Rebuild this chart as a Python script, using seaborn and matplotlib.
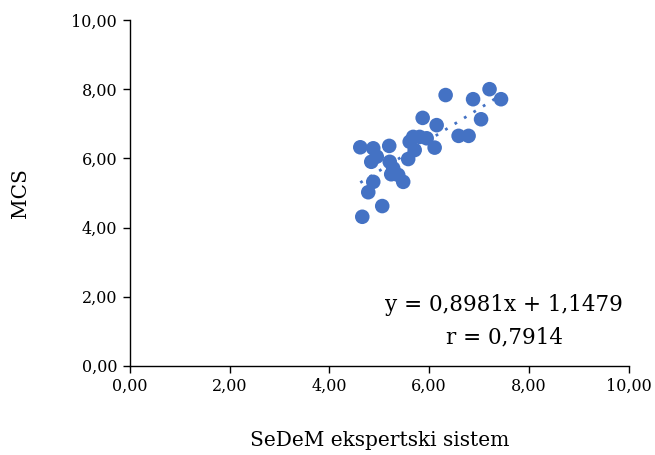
import matplotlib
matplotlib.use("Agg")
import numpy as np
import pandas as pd
import matplotlib.pyplot as plt
import seaborn as sns
from matplotlib.ticker import FuncFormatter

# values
sedem = [6.33, 7.21, 7.44, 6.88, 7.04, 5.87, 6.15, 6.59, 6.79, 4.62, 4.88, 5.20,
         5.68, 5.81, 5.95, 5.61, 6.11, 5.71, 5.58, 4.84, 5.21, 5.28, 5.24, 5.38,
         5.48, 4.88, 4.78, 5.06, 4.66, 4.95]
mcs = [7.83, 8.00, 7.71, 7.71, 7.13, 7.17, 6.96, 6.65, 6.65, 6.32, 6.29, 6.36,
       6.62, 6.62, 6.58, 6.48, 6.31, 6.24, 5.98, 5.90, 5.90, 5.71, 5.54, 5.52,
       5.32, 5.32, 5.02, 4.62, 4.31, 6.05]
slope, intercept = 0.8981, 1.1479
eq_line = "y = 0,8981x + 1,1479"
r_line = "r = 0,7914"

df = pd.DataFrame({"SeDeM": sedem, "MCS": mcs})

sns.set_style("white")
plt.rcParams["font.family"] = ["DejaVu Serif"]
plt.rcParams["text.color"] = "black"
plt.rcParams["axes.labelcolor"] = "black"
plt.rcParams["xtick.color"] = "black"
plt.rcParams["ytick.color"] = "black"

fig = plt.figure(figsize=(6.55, 4.55), dpi=100)
ax = fig.add_axes([0.198, 0.196, 0.762, 0.760])

blue = "#4472C4"
sns.scatterplot(data=df, x="SeDeM", y="MCS", ax=ax, color=blue, s=110,
                edgecolor="none", zorder=3)

# linear trendline from the published equation
xs = np.linspace(df["SeDeM"].min(), df["SeDeM"].max(), 50)
ax.plot(xs, slope * xs + intercept, color=blue, lw=2, ls=(0, (1, 3)),
        zorder=2)

ax.set_xlim(0, 10)
ax.set_ylim(0, 10)
ax.set_xticks(np.arange(0, 11, 2))
ax.set_yticks(np.arange(0, 11, 2))
fmt = FuncFormatter(lambda v, p: f"{v:.2f}".replace(".", ","))
ax.xaxis.set_major_formatter(fmt)
ax.yaxis.set_major_formatter(fmt)
ax.tick_params(axis="both", which="major", direction="out", length=5,
               width=1, color="black", labelcolor="black", labelsize=11.5,
               pad=4)
ax.tick_params(axis="x", bottom=True)
ax.tick_params(axis="y", left=True)

for side in ["top", "right"]:
    ax.spines[side].set_visible(False)
for side in ["left", "bottom"]:
    ax.spines[side].set_color("black")
    ax.spines[side].set_linewidth(1)

ax.set_xlabel("SeDeM ekspertski sistem", fontsize=14.5, labelpad=26)
ax.set_ylabel("MCS", fontsize=14.5, labelpad=30)

ax.text(7.5, 1.76, eq_line, ha="center", va="center", fontsize=15.5)
ax.text(7.5, 0.83, r_line, ha="center", va="center", fontsize=15.5)

fig.savefig("out.png", dpi=100)
